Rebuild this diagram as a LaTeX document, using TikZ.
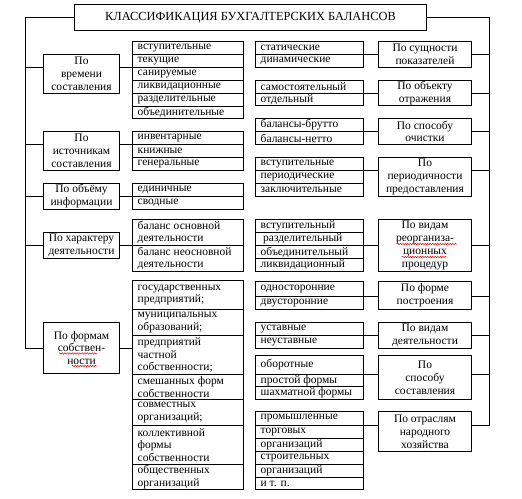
\documentclass[tikz,border=0pt]{standalone}
\usepackage{fontspec}
\setmainfont{Liberation Serif}
\usetikzlibrary{decorations.pathmorphing}
\newcommand\mkcA[4]{\node[cell, minimum width=111pt, minimum height={#3-#2}] (#1) at (188,{(#2+#3)/2}) {};
  \node[tx] (#1t) at (#1.west) {#4};}
\newcommand\mkcB[4]{\node[cell, minimum width=108pt, minimum height={#3-#2}] (#1) at (309.5,{(#2+#3)/2}) {};
  \node[tx] (#1t) at (#1.west) {#4};}
\newcommand\mkL[4]{\node[box, minimum width=76pt, minimum height={#3-#2}] (#1) at (81.5,{(#2+#3)/2}) {#4};}
\newcommand\mkR[4]{\node[box, minimum width=93pt, minimum height={#3-#2}] (#1) at (425,{(#2+#3)/2}) {#4};}
\begin{document}
\begin{tikzpicture}[x=1pt,y=-1pt,
  every node/.style={font=\fontsize{11.5}{12.85}\selectfont, outer sep=0pt},
  box/.style={draw, line width=1pt, align=center, inner sep=0pt},
  cell/.style={draw, line width=1pt, inner sep=0pt},
  tx/.style={anchor=west, align=left, inner sep=0pt, xshift=5.2pt},
  ln/.style={line width=1pt},
  spell/.style={draw=red, line width=0.5pt, decorate, decoration={snake, segment length=2.5pt, amplitude=0.7pt}}]
\useasboundingbox (0,0) rectangle (522,498);
% title
\node[box, minimum width=352pt, minimum height=26pt, font=\fontsize{12.4}{13}\selectfont] (T) at (250.5,17.5) {КЛАССИФИКАЦИЯ БУХГАЛТЕРСКИХ БАЛАНСОВ};
\coordinate (lb) at (25.5,17.5);
\coordinate (rb) at (489.5,17.5);
% left category boxes
\mkL{L1}{54.5}{93.5}{По\\времени\\составления}
\mkL{L2}{131.5}{170.5}{По\\источникам\\составления}
\mkL{L3}{183.5}{209.5}{По объёму\\информации}
\mkL{L4}{232.5}{258.5}{По характеру\\деятельности}
\mkL{L5}{322.5}{373.5}{По формам\\собствен-\\ности}
% right category boxes
\mkR{R1}{41.5}{67.5}{По сущности\\показателей}
\mkR{R2}{80.5}{105.5}{По объекту\\отражения}
\mkR{R3}{118.5}{144.5}{По способу\\очистки}
\mkR{R4}{157.5}{196.5}{По\\периодичности\\предоставления}
\mkR{R5}{219.5}{271.5}{По видам\\реорганиза-\\ционных\\процедур}
\mkR{R6}{281.5}{309.5}{По форме\\построения}
\mkR{R7}{322.5}{348.5}{По видам\\деятельности}
\mkR{R8}{355.5}{399.5}{По\\способу\\составления}
\mkR{R9}{411.5}{451.5}{По отраслям\\народного\\хозяйства}
% spell-check marks
\draw[spell] (397,244) -- (457,244);
\draw[spell] (402,257) -- (447,257);
\draw[spell] (59,353.5) -- (97,353.5);
\draw[spell] (72,366) -- (97,366);
% list A
\mkcA{A1}{41.5}{54.5}{вступительные}
\mkcA{A2}{54.5}{67.5}{текущие}
\mkcA{A3}{67.5}{80.5}{санируемые}
\mkcA{A4}{80.5}{93.5}{ликвидационные}
\mkcA{A5}{93.5}{106.5}{разделительные}
\mkcA{A6}{106.5}{118.5}{объединительные}
% list B
\mkcA{B1}{131.5}{144.5}{инвентарные}
\mkcA{B2}{144.5}{157.5}{книжные}
\mkcA{B3}{157.5}{170.5}{генеральные}
% list C
\mkcA{C1}{183.5}{196.5}{единичные}
\mkcA{C2}{196.5}{209.5}{сводные}
% list D
\mkcA{D1}{219.5}{245.5}{баланс основной\\деятельности}
\mkcA{D2}{245.5}{271.5}{баланс неосновной\\деятельности}
% list E
\mkcA{E1}{280.5}{309.5}{государственных\\предприятий;}
\mkcA{E2}{309.5}{335.5}{муниципальных\\образований;}
\mkcA{E3}{335.5}{374.5}{предприятий\\частной\\собственности;}
\mkcA{E4}{374.5}{399.5}{смешанных форм\\собственности}
\mkcA{E5}{399.5}{425.5}{совместных\\организаций;}
\mkcA{E6}{425.5}{464.5}{коллективной\\формы\\собственности}
\mkcA{E7}{464.5}{489.5}{общественных\\организаций}
% list F
\mkcB{F1}{41.5}{54.5}{статические}
\mkcB{F2}{54.5}{67.5}{динамические}
% list G
\mkcB{G1}{80.5}{93.5}{самостоятельный}
\mkcB{G2}{93.5}{105.5}{отдельный}
% list H
\mkcB{H1}{118.5}{131.5}{балансы-брутто}
\mkcB{H2}{131.5}{144.5}{балансы-нетто}
% list I
\mkcB{I1}{157.5}{170.5}{вступительные}
\mkcB{I2}{170.5}{183.5}{периодические}
\mkcB{I3}{183.5}{196.5}{заключительные}
% list J
\mkcB{J1}{219.5}{232.5}{вступительный}
\mkcB{J2}{232.5}{245.5}{\hspace*{2.5pt}разделительный}
\mkcB{J3}{245.5}{258.5}{объединительный}
\mkcB{J4}{258.5}{271.5}{ликвидационный}
% list K
\mkcB{K1}{281.5}{296.5}{односторонние}
\mkcB{K2}{296.5}{309.5}{двусторонние}
% list P
\mkcB{P1}{322.5}{335.5}{уставные}
\mkcB{P2}{335.5}{348.5}{неуставные}
% list M
\mkcB{M1}{355.5}{374.5}{оборотные}
\mkcB{M2}{374.5}{386.5}{простой формы}
\mkcB{M3}{386.5}{399.5}{шахматной формы}
% list N
\mkcB{N1}{411.5}{425.5}{промышленные}
\mkcB{N2}{425.5}{438.5}{торговых}
\mkcB{N3}{438.5}{451.5}{организаций}
\mkcB{N4}{451.5}{464.5}{строительных}
\mkcB{N5}{464.5}{477.5}{организаций}
\mkcB{N6}{477.5}{489.5}{и т. п.}
% left junction for L5
\coordinate (l5j) at ([yshift=-0.5pt]L5.west);
% buses
\draw[ln] (T.west) -- (lb) -- (lb |- l5j);
\draw[ln] (T.east) -- (rb) -- (rb |- N1.south east);
% left connectors
\draw[ln] (lb |- A2.south west) -- (L1.west |- A2.south west);
\draw[ln] (L1.east |- A2.south west) -- (A2.south west);
\draw[ln] (lb |- B1.south west) -- (L2.west |- B1.south west);
\draw[ln] (L2.east |- B1.south west) -- (B1.south west);
\draw[ln] (lb |- C1.south west) -- (L3.west |- C1.south west);
\draw[ln] (L3.east |- C1.south west) -- (C1.south west);
\draw[ln] (lb |- D1.south west) -- (L4.west |- D1.south west);
\draw[ln] (L4.east |- D1.south west) -- (D1.south west);
\draw[ln] (lb |- l5j) -- (l5j);
\draw[ln] (L5.east |- l5j) -- (E3.west |- l5j);
% right connectors
\draw[ln] (F1.south east) -- (R1.west |- F1.south east);
\draw[ln] (R1.east |- F1.south east) -- (rb |- F1.south east);
\draw[ln] (G1.south east) -- (R2.west |- G1.south east);
\draw[ln] (R2.east |- G1.south east) -- (rb |- G1.south east);
\draw[ln] (H1.south east) -- (R3.west |- H1.south east);
\draw[ln] (R3.east |- H1.south east) -- (rb |- H1.south east);
\draw[ln] (I1.south east) -- (R4.west |- I1.south east);
\draw[ln] (R4.east |- I1.south east) -- (rb |- I1.south east);
\draw[ln] (J2.south east) -- (R5.west |- J2.south east);
\draw[ln] (R5.east |- J2.south east) -- (rb |- J2.south east);
\draw[ln] (K1.south east) -- (R6.west |- K1.south east);
\draw[ln] (R6.east |- K1.south east) -- (rb |- K1.south east);
\draw[ln] (P1.south east) -- (R7.west |- P1.south east);
\draw[ln] (R7.east |- P1.south east) -- (rb |- P1.south east);
\draw[ln] (M1.south east) -- (R8.west |- M1.south east);
\draw[ln] (R8.east |- M1.south east) -- (rb |- M1.south east);
\draw[ln] (N1.south east) -- (R9.west |- N1.south east);
\draw[ln] (R9.east |- N1.south east) -- (rb |- N1.south east);
\end{tikzpicture}
\end{document}
